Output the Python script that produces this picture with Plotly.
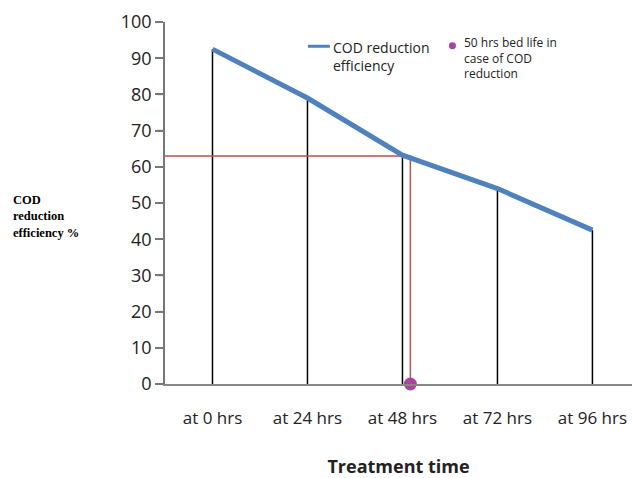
import plotly.graph_objects as go

hours = [0, 24, 48, 72, 96]
tick_labels = ["at 0 hrs", "at 24 hrs", "at 48 hrs", "at 72 hrs", "at 96 hrs"]
y_ticks = list(range(0, 101, 10))
cod_eff = [92.5, 79, 63.2, 54, 42.5]
bed_life_x = [50]
bed_life_y = [0]
bed_life_level = 63

fig = go.Figure()

# drop lines
dx, dy = [], []
for h, v in zip(hours, cod_eff):
    dx += [h, h, None]
    dy += [0, v, None]
fig.add_trace(go.Scatter(x=dx, y=dy, mode="lines", line=dict(color="black", width=1.5),
                         hoverinfo="skip", showlegend=False))

# red guide lines
fig.add_trace(go.Scatter(x=[-12, bed_life_x[0], bed_life_x[0]],
                         y=[bed_life_level, bed_life_level, 0],
                         mode="lines", line=dict(color="#C0504D", width=1.5),
                         hoverinfo="skip", showlegend=False))

fig.add_trace(go.Scatter(x=hours, y=cod_eff, mode="lines",
                         line=dict(color="#4F81BD", width=5),
                         name="COD reduction efficiency", showlegend=False))

fig.add_trace(go.Scatter(x=bed_life_x, y=bed_life_y, mode="markers",
                         marker=dict(color="#A8469F", size=13),
                         cliponaxis=False,
                         name="50 hrs bed life", showlegend=False))

font_sans = "Open Sans, Noto Sans, sans-serif"

fig.update_layout(
    width=632, height=478,
    margin=dict(l=165, r=0, t=22, b=94),
    paper_bgcolor="white", plot_bgcolor="white",
    xaxis=dict(range=[-12, 106], tickvals=hours, ticktext=tick_labels,
               showgrid=False, zeroline=False, showline=True, linecolor="#888", linewidth=1.5,
               ticks="outside", ticklen=18, tickcolor="rgba(0,0,0,0)",
               tickfont=dict(family=font_sans, size=17, color="#222"),
               title=dict(text="<b>Treatment time</b>", font=dict(family=font_sans, size=18, color="#222"),
                          standoff=33)),
    yaxis=dict(range=[0, 100], tickvals=y_ticks,
               showgrid=False, zeroline=False, showline=True, linecolor="#777", linewidth=1.5,
               ticks="outside", ticklen=8, tickwidth=1.5, tickcolor="#777",
               ticksuffix="\u00a0\u00a0",
               tickfont=dict(family=font_sans, size=18, color="#222")),
    showlegend=False,
)

# explicit y tick marks (outside the plot area)
for t in y_ticks:
    fig.add_shape(type="line", xref="paper", yref="y", x0=-0.017, x1=0, y0=t, y1=t,
                  line=dict(color="#777", width=1.5), layer="above")

# Y axis title (left, serif bold)
fig.add_annotation(xref="paper", yref="paper", x=-0.33, y=0.464, xanchor="left", yanchor="middle",
                   text="<b>COD<br>reduction<br>efficiency %</b>", align="left", showarrow=False,
                   font=dict(family="Liberation Serif, Times New Roman, serif", size=12.5, color="black"))

# manual legend
fig.add_shape(type="line", xref="paper", yref="paper", x0=0.306, x1=0.353, y0=0.933, y1=0.933,
              line=dict(color="#4F81BD", width=3))
fig.add_annotation(xref="paper", yref="paper", x=0.355, y=0.962, xanchor="left", yanchor="top",
                   text="COD reduction<br>efficiency", align="left", showarrow=False,
                   font=dict(family=font_sans, size=14, color="#222"))
fig.add_shape(type="circle", xref="paper", yref="paper", x0=0.608, x1=0.623, y0=0.925, y1=0.944,
              fillcolor="#A8469F", line=dict(width=0))
fig.add_annotation(xref="paper", yref="paper", x=0.635, y=0.972, xanchor="left", yanchor="top",
                   text="50 hrs bed life in<br>case of COD<br>reduction", align="left", showarrow=False,
                   font=dict(family=font_sans, size=12, color="#222"))

fig.write_html("out.html")
